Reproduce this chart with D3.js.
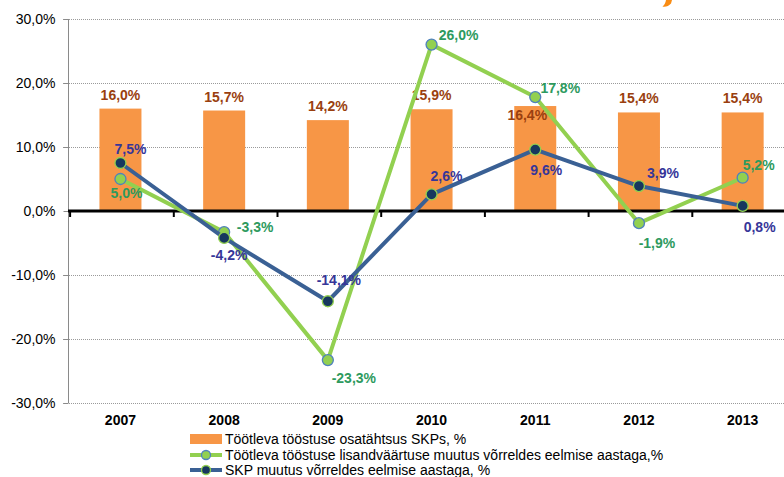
<!DOCTYPE html>
<html>
<head>
<meta charset="utf-8">
<script src="https://cdn.jsdelivr.net/npm/d3@7"></script>
<style>
  html, body { margin: 0; padding: 0; background: #fff; }
  svg { display: block; }
  text { font-family: "Liberation Sans", Arial, sans-serif; }
</style>
</head>
<body>
<svg id="chart" width="784" height="477"></svg>
<script>
// ---- data ----
const years = ["2007", "2008", "2009", "2010", "2011", "2012", "2013"];
const shareOfGDP = [16.0, 15.7, 14.2, 15.9, 16.4, 15.4, 15.4];
const valueAddedChange = [5.0, -3.3, -23.3, 26.0, 17.8, -1.9, 5.2];
const gdpChange = [7.5, -4.2, -14.1, 2.6, 9.6, 3.9, 0.8];
const yTicks = [-30, -20, -10, 0, 10, 20, 30];
const seriesNames = [
  "Töötleva tööstuse  osatähtsus SKPs, %",
  "Töötleva tööstuse  lisandväärtuse muutus võrreldes eelmise aastaga,%",
  "SKP muutus võrreldes eelmise aastaga, %"
];

// label placement (offsets from point, px)
const greenLabelOff = [[6, 14], [31, -5], [26, 18], [27, -10], [25, -9], [18, 20], [16, -13]];
const blueLabelOff = [[10, -14], [5, 17], [11, -21], [15, -18], [11, 20], [24, -13], [17, 21]];

// ---- styles ----
const C = {
  bar: "#F79646",
  barLabel: "#9A3F0F",
  green: "#92D050",
  greenMarkerStroke: "#4F81BD",
  greenLabel: "#2E9A5E",
  blue: "#3A6094",
  blueMarker: "#17375E",
  blueLabel: "#363699"
};

const fmt = v => d3.format(".1f")(v).replace(".", ",").replace("\u2212", "-") + "%";

const svg = d3.select("#chart");
const x = d3.scaleBand().domain(years).range([68.6, 794.5]).paddingInner(0).paddingOuter(0);
const y = d3.scaleLinear().domain([-30, 30]).range([403, 19]);
const barW = 42;
const cx = yr => x(yr) + x.bandwidth() / 2;

// clipped fragment of a title above the chart (cut off at top edge)
svg.append("path")
  .attr("d", "M672,0 L666,0 C665.5,3 664.5,5 662.5,6.5 C665,7.5 669,6 671,3.5 Z")
  .attr("fill", "#F98C14");

// grid lines
svg.append("g").selectAll("line").data(yTicks.filter(d => d !== 0)).join("line")
  .attr("x1", 63).attr("x2", 784)
  .attr("y1", d => y(d) + 0.5).attr("y2", d => y(d) + 0.5)
  .attr("stroke", "#9a9a9a").attr("stroke-width", 1).attr("stroke-dasharray", "1,1");

// y axis
const yAxis = svg.append("g").attr("transform", "translate(68.5,0)")
  .call(d3.axisLeft(y).tickValues(yTicks).tickSize(5).tickPadding(8).tickFormat(fmt));
yAxis.select(".domain").attr("stroke", "#8a8a8a").attr("d", `M0,${y(30)}V${y(-30)}`);
yAxis.selectAll(".tick line").attr("stroke", "#8a8a8a");
yAxis.selectAll(".tick text").attr("font-size", 14).attr("fill", "#000")
  .attr("font-family", "'Liberation Sans', Arial, sans-serif");

// bars
svg.append("g").selectAll("rect").data(years).join("rect")
  .attr("x", d => cx(d) - barW / 2)
  .attr("width", barW)
  .attr("y", (d, i) => y(shareOfGDP[i]))
  .attr("height", (d, i) => y(0) - y(shareOfGDP[i]))
  .attr("fill", C.bar);

// zero axis line with ticks
const xAxis = svg.append("g").attr("transform", `translate(0,${y(0)})`)
  .call(d3.axisBottom(x).tickValues([]).tickSize(0));
xAxis.select(".domain").remove();
svg.append("line").attr("x1", 68).attr("x2", 784).attr("y1", y(0)).attr("y2", y(0))
  .attr("stroke", "#000").attr("stroke-width", 3);
const boundaries = years.map(d => x(d)).concat([x(years[years.length - 1]) + x.bandwidth()]);
svg.append("g").selectAll("line").data(boundaries.filter(b => b < 784)).join("line")
  .attr("x1", d => d + 1.5).attr("x2", d => d + 1.5)
  .attr("y1", y(0)).attr("y2", y(0) + 6)
  .attr("stroke", "#000").attr("stroke-width", 2);

// year labels
svg.append("g").selectAll("text").data(years).join("text")
  .attr("x", d => cx(d)).attr("y", 425)
  .attr("text-anchor", "middle").attr("font-size", 14).attr("font-weight", "bold")
  .text(d => d);

// bar labels
svg.append("g").selectAll("text").data(years).join("text")
  .attr("x", (d, i) => cx(d) + (i === 4 ? -8 : 0))
  .attr("y", (d, i) => y(shareOfGDP[i]) + (i === 4 ? 9 : -14))
  .attr("dy", "0.36em")
  .attr("text-anchor", "middle").attr("font-size", 14).attr("font-weight", "bold")
  .attr("fill", C.barLabel)
  .text((d, i) => fmt(shareOfGDP[i]));

// lines
const lineGen = vals => d3.line().x((d, i) => cx(years[i])).y(d => y(d))(vals);
svg.append("path").attr("d", lineGen(valueAddedChange)).attr("fill", "none")
  .attr("stroke", C.green).attr("stroke-width", 4).attr("stroke-linejoin", "round");
svg.append("g").selectAll("circle").data(valueAddedChange).join("circle")
  .attr("cx", (d, i) => cx(years[i])).attr("cy", d => y(d)).attr("r", 5.5)
  .attr("fill", C.green).attr("stroke", C.greenMarkerStroke).attr("stroke-width", 1.3);

svg.append("path").attr("d", lineGen(gdpChange)).attr("fill", "none")
  .attr("stroke", C.blue).attr("stroke-width", 4).attr("stroke-linejoin", "round");
svg.append("g").selectAll("circle").data(gdpChange).join("circle")
  .attr("cx", (d, i) => cx(years[i])).attr("cy", d => y(d)).attr("r", 5.5)
  .attr("fill", C.blueMarker).attr("stroke", C.green).attr("stroke-width", 1.3);

// line labels
svg.append("g").selectAll("text").data(valueAddedChange).join("text")
  .attr("x", (d, i) => cx(years[i]) + greenLabelOff[i][0])
  .attr("y", (d, i) => y(d) + greenLabelOff[i][1])
  .attr("dy", "0.36em").attr("text-anchor", "middle")
  .attr("font-size", 14).attr("font-weight", "bold").attr("fill", C.greenLabel)
  .text(d => fmt(d));
svg.append("g").selectAll("text").data(gdpChange).join("text")
  .attr("x", (d, i) => cx(years[i]) + blueLabelOff[i][0])
  .attr("y", (d, i) => y(d) + blueLabelOff[i][1])
  .attr("dy", "0.36em").attr("text-anchor", "middle")
  .attr("font-size", 14).attr("font-weight", "bold").attr("fill", C.blueLabel)
  .text(d => fmt(d));

// legend
const lg = svg.append("g");
const ly = [439, 455, 470];
lg.append("rect").attr("x", 190).attr("y", ly[0] - 5).attr("width", 32).attr("height", 10).attr("fill", C.bar);
lg.append("line").attr("x1", 190).attr("x2", 222).attr("y1", ly[1]).attr("y2", ly[1])
  .attr("stroke", C.green).attr("stroke-width", 4);
lg.append("circle").attr("cx", 206).attr("cy", ly[1]).attr("r", 4.5)
  .attr("fill", C.green).attr("stroke", C.greenMarkerStroke).attr("stroke-width", 1.3);
lg.append("line").attr("x1", 190).attr("x2", 222).attr("y1", ly[2]).attr("y2", ly[2])
  .attr("stroke", C.blue).attr("stroke-width", 4);
lg.append("circle").attr("cx", 206).attr("cy", ly[2]).attr("r", 4.5)
  .attr("fill", C.blueMarker).attr("stroke", C.green).attr("stroke-width", 1.3);
lg.selectAll("text.leg").data(seriesNames).join("text").attr("class", "leg")
  .attr("x", 225).attr("y", (d, i) => ly[i]).attr("dy", "0.36em")
  .attr("font-size", 14).attr("fill", "#000")
  .attr("font-family", "'Liberation Sans Narrow', 'Liberation Sans', Arial, sans-serif")
  .text(d => d);
</script>
</body>
</html>
